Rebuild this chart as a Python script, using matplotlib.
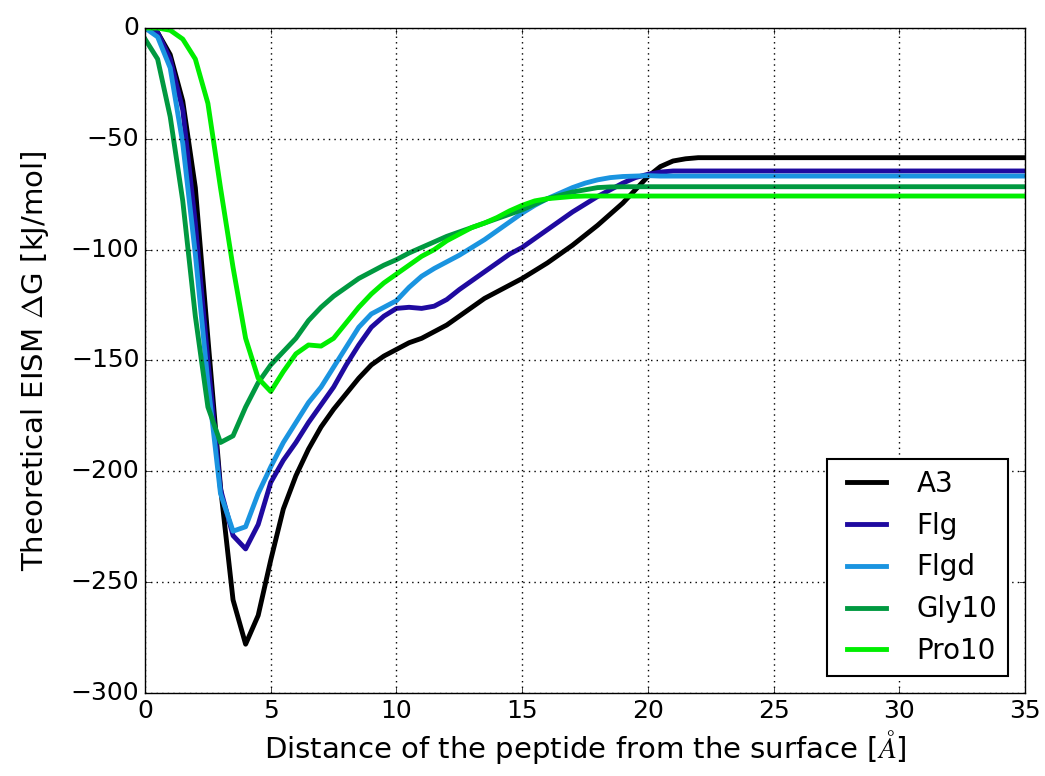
import matplotlib
matplotlib.use("Agg")
import matplotlib.pyplot as plt

# distance grid (Angstrom), 0.5 steps up to 22, then flat to 35
dist = [i * 0.5 for i in range(45)] + [35]

a3 = [0, -2, -12, -33, -72, -140, -207, -258, -278, -265,
      -240, -217, -202, -190, -180, -172, -165, -158, -152, -148,
      -145, -142, -140, -137, -134, -130, -126, -122, -119, -116,
      -113, -109.5, -106, -102, -98, -93.5, -89, -84, -79, -73,
      -67, -62.5, -60, -59, -58.5, -58.5]

flg = [0, -2, -14, -37, -88, -150, -208, -229, -235, -224,
       -205, -195, -187, -178, -170, -162, -152, -143, -135, -130,
       -126.5, -126, -126.5, -125.5, -122.5, -118, -114, -110, -106, -102,
       -99, -95, -91, -87, -83, -79.5, -76, -73, -70, -67.5,
       -66, -65, -64.5, -64.5, -64.5, -64.5]

flgd = [0, -4, -18, -52, -102, -160, -210, -227, -225, -210,
        -198, -187, -178, -169, -162, -153, -144, -135, -129, -126,
        -123, -117, -112, -108.5, -105.5, -102.5, -99, -95.5, -91.5, -87.5,
        -83.5, -80, -77, -74.5, -72, -70, -68.5, -67.5, -67, -66.8,
        -66.6, -66.8, -66.8, -66.8, -66.8, -66.8]

gly10 = [-5, -14, -40, -78, -130, -171, -187, -184, -171, -160,
         -152, -146, -140, -132, -126, -121, -117, -113, -110, -107,
         -104.5, -101.5, -99, -96.5, -94, -92, -90, -88, -86, -84,
         -82, -79.5, -77, -75.5, -74, -73, -72, -71.7, -71.6, -71.6,
         -71.6, -71.6, -71.6, -71.6, -71.6, -71.6]

pro10 = [0, 0, -1, -5, -14, -34, -72, -108, -140, -158,
         -164, -155, -147, -143, -143.5, -140, -133, -126, -120, -115,
         -111, -107, -103, -100, -96, -93, -90, -88, -85.5, -82.5,
         -80, -78, -77, -76.5, -76, -75.8, -75.8, -75.8, -75.8, -75.8,
         -75.8, -75.8, -75.8, -75.8, -75.8, -75.8]

labels = ["A3", "Flg", "Flgd", "Gly10", "Pro10"]
colors = ["black", "#1f0aa0", "#1a94e0", "#009940", "#00ee00"]

plt.style.use("classic")
plt.rcParams["font.size"] = 18
plt.rcParams["figure.facecolor"] = "white"

fig = plt.figure(figsize=(10.45, 7.76), dpi=100)
ax = fig.add_axes([0.1388, 0.107, 0.8421, 0.8569])

for ys, lab, col in zip([a3, flg, flgd, gly10, pro10], labels, colors):
    ax.plot(dist, ys, color=col, lw=3.5, label=lab)

ax.set_xlim(0, 35)
ax.set_ylim(-300, 0)
ax.set_xticks(range(0, 36, 5))
ax.set_yticks(range(-300, 1, 50))
ax.grid(True, linestyle=":", color="black", lw=1)
ax.tick_params(labelsize=18, direction="in", top=True, right=True)

ax.set_xlabel(r"Distance of the peptide from the surface [$\AA$]", fontsize=21, labelpad=4)
ax.set_ylabel(r"Theoretical EISM $\Delta$G [kJ/mol]", fontsize=21, labelpad=14)

leg = ax.legend(loc="lower right", fontsize=20, numpoints=2, fancybox=False,
                borderaxespad=0.6)
leg.get_frame().set_linewidth(1.5)

fig.savefig("out.png", dpi=100, facecolor="white")
